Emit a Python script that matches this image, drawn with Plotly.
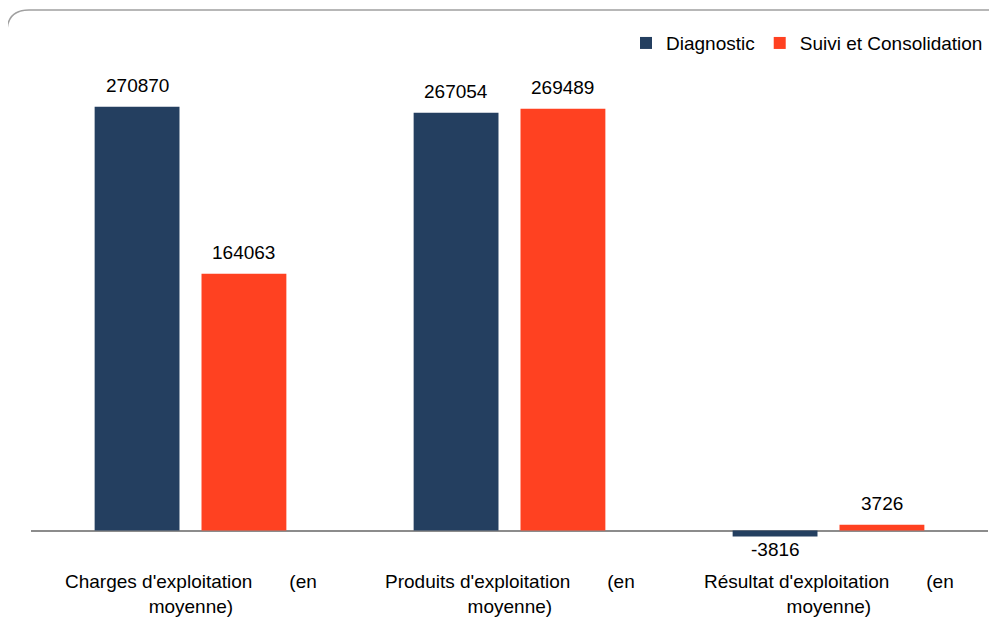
import plotly.graph_objects as go

categories = ["Charges d'exploitation (en moyenne)",
              "Produits d'exploitation (en moyenne)",
              "Résultat d'exploitation (en moyenne)"]
cat_line1 = ["Charges d'exploitation", "Produits d'exploitation", "Résultat d'exploitation"]
cat_line2 = ["(en", "(en", "(en"]
cat_line3 = ["moyenne)", "moyenne)", "moyenne)"]
diagnostic = [270870, 267054, -3816]
suivi = [164063, 269489, 3726]
series_names = ["Diagnostic", "Suivi et Consolidation"]
colors = ["#243F60", "#FF4121"]

FONT = "Liberation Sans"
FS = 19
bargap = 0.33
bargroupgap = 0.206

xs = list(range(len(categories)))
fig = go.Figure()
for name, vals, col in zip(series_names, [diagnostic, suivi], colors):
    fig.add_trace(go.Bar(x=xs, y=vals, name=name, marker=dict(color=col, line=dict(width=0)),
                         hoverinfo="y"))

off = (1 - bargap) / 4
annotations = []
for i, x in enumerate(xs):
    for k, vals in enumerate([diagnostic, suivi]):
        v = vals[i]
        ax = x - off if k == 0 else x + off
        annotations.append(dict(x=ax, y=v, xref="x", yref="y", text=str(v), showarrow=False,
                                yanchor="bottom" if v >= 0 else "top",
                                yshift=9 if v >= 0 else -1,
                                font=dict(family=FONT, size=FS, color="#000000")))
    nb = "\u00a0" * 7
    annotations.append(dict(x=x, y=0, xref="x", yref="paper",
                            text=cat_line1[i] + nb + cat_line2[i] + "<br>" + cat_line3[i],
                            showarrow=False, yanchor="top", yshift=-24, align="center",
                            font=dict(family=FONT, size=FS, color="#000000")))

# rounded border (partially outside the page)
x0, y1 = -0.02508, 1.01905
x1, y0 = 1.03, -0.25
rx, ry = 0.023, 0.042
path = (f"M {x0},{y0} L {x0},{y1-ry} Q {x0},{y1} {x0+rx},{y1} L {x1},{y1}")

fig.update_layout(
    width=989, height=629,
    margin=dict(l=23, r=9, t=12, b=92),
    paper_bgcolor="white", plot_bgcolor="white",
    barmode="group", bargap=bargap, bargroupgap=bargroupgap,
    font=dict(family=FONT, size=FS, color="#000000"),
    showlegend=True,
    legend=dict(orientation="h", x=1.0, xanchor="right", y=0.956, yanchor="middle",
                font=dict(family=FONT, size=19), traceorder="normal",
                bgcolor="rgba(0,0,0,0)"),
    xaxis=dict(range=[-0.5, 2.5], showticklabels=False, showgrid=False, zeroline=False,
               showline=False, ticks=""),
    yaxis=dict(range=[-9267, 326264], showticklabels=False, showgrid=False,
               zeroline=True, zerolinecolor="#8C8C8C", zerolinewidth=1.5, showline=False),
    annotations=annotations,
    shapes=[dict(type="path", path=path, xref="paper", yref="paper",
                 line=dict(color="#A0A0A0", width=1.5))],
)

fig.write_html("out.html")
